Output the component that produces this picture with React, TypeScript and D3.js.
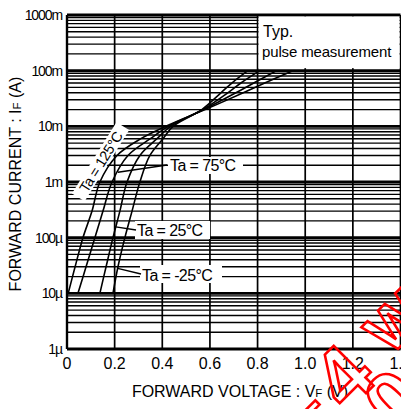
import React from "react";
import * as d3 from "d3";

const W = 401;
const H = 409;

const xTickValues = [0, 0.2, 0.4, 0.6, 0.8, 1.0, 1.2, 1.4];
const xTickLabels = ["0", "0.2", "0.4", "0.6", "0.8", "1.0", "1.2", "1.4"];
const yTickValues = [1e-6, 1e-5, 1e-4, 1e-3, 1e-2, 1e-1, 1];
const yTickLabels = ["1µ", "10µ", "100µ", "1m", "10m", "100m", "1000m"];

const currents = [1e-5, 3e-5, 1e-4, 3e-4, 1e-3, 3e-3, 6e-3, 1e-2, 2e-2, 4e-2, 6e-2, 1e-1];
const vf125 = [0.005, 0.034, 0.067, 0.105, 0.138, 0.21, 0.31, 0.415, 0.58, 0.74, 0.83, 0.948];
const vf75 = [0.046, 0.08, 0.117, 0.151, 0.189, 0.256, 0.35, 0.425, 0.574, 0.709, 0.784, 0.88];
const vf25 = [0.138, 0.164, 0.193, 0.222, 0.252, 0.306, 0.378, 0.435, 0.57, 0.675, 0.73, 0.809];
const vfm25 = [0.193, 0.214, 0.243, 0.273, 0.306, 0.348, 0.403, 0.445, 0.566, 0.646, 0.692, 0.759];

const seriesNames = ["Ta = 125°C", "Ta = 75°C", "Ta = 25°C", "Ta = -25°C"];
const noteLines = ["Typ.", "pulse measurement"];
const watermarkGlyphs = ["4", "0", "W", "-"];

const FONT = "'Liberation Sans', Arial, Helvetica, sans-serif";

export default function App() {
  const x = d3.scaleLinear().domain([0, 1.4]).range([67, 400.5]);
  const y = d3.scaleLog().domain([1e-6, 1]).range([349, 15]);

  const series = [vf125, vf75, vf25, vfm25].map((vs) => vs.map((v, i) => [v, currents[i]] as [number, number]));
  const line = d3
    .line<[number, number]>()
    .x((d) => x(d[0]))
    .y((d) => y(d[1]))
    .curve(d3.curveCatmullRom.alpha(0.5));

  const minor: number[] = [];
  for (let e = -6; e < 0; e++) {
    for (let k = 2; k <= 9; k++) minor.push(k * Math.pow(10, e));
  }

  const vAt = (vs: number[], I: number) => {
    const li = Math.log10(I);
    for (let i = 0; i < currents.length - 1; i++) {
      const a = Math.log10(currents[i]);
      const b = Math.log10(currents[i + 1]);
      if (li >= a && li <= b) {
        const t = (li - a) / (b - a);
        return vs[i] + t * (vs[i + 1] - vs[i]);
      }
    }
    return vs[0];
  };

  const x0 = x(0);
  const x1 = x(1.4);
  const yTop = y(1);
  const yBot = y(1e-6);

  const l75 = { I: 1.5e-3, tx: 170, ty: 171 };
  const l25 = { I: 1.56e-4, tx: 137, ty: 236 };
  const lm25 = { I: 2.8e-5, tx: 142, ty: 281 };

  return (
    <svg
      width={W}
      height={H}
      viewBox={`0 0 ${W} ${H}`}
      style={{ position: "absolute", left: 0, top: 0, background: "#fff" }}
      fontFamily={FONT}
    >
      <rect x={0} y={0} width={W} height={H} fill="#fff" />
      <defs>
        <clipPath id="plot">
          <rect x={x0} y={yTop} width={x1 - x0} height={yBot - yTop} />
        </clipPath>
      </defs>

      {minor.map((v, i) => (
        <line key={"m" + i} x1={x0} x2={x1} y1={y(v)} y2={y(v)} stroke="#000" strokeWidth={1.4} />
      ))}
      {yTickValues.map((v, i) => (
        <line key={"d" + i} x1={x0} x2={x1} y1={y(v)} y2={y(v)} stroke="#000" strokeWidth={2.8} />
      ))}
      {xTickValues.map((v, i) => (
        <line
          key={"v" + i}
          x1={x(v)}
          x2={x(v)}
          y1={yTop}
          y2={yBot}
          stroke="#000"
          strokeWidth={i === 0 ? 2.2 : 1.7}
        />
      ))}

      {/* Typ box */}
      <rect x={x(0.8) + 1} y={yTop + 1.5} width={x1 - x(0.8) - 2} height={y(0.1) - yTop - 4} fill="#fff" />
      <text x={263} y={37} fontSize={16} fill="#000">
        {noteLines[0]}
      </text>
      <text x={262} y={57} fontSize={15} fill="#000" letterSpacing={-0.15}>
        {noteLines[1]}
      </text>

      <g clipPath="url(#plot)">
        {series.map((s, i) => (
          <path key={"c" + i} d={line(s) || ""} fill="none" stroke="#000" strokeWidth={1.6} />
        ))}
      </g>

      <g transform="translate(101,162) rotate(-58)">
        <rect x={-42} y={-8} width={84} height={15} fill="#fff" />
        <text x={0} y={5} fontSize={14.5} textAnchor="middle" letterSpacing={-0.4}>
          {seriesNames[0]}
        </text>
      </g>

      <rect x={168} y={157} width={75} height={17} fill="#fff" />
      <line x1={x(vAt(vf75, l75.I))} y1={y(l75.I)} x2={167} y2={165} stroke="#000" strokeWidth={1.4} />
      <text x={l75.tx} y={l75.ty} fontSize={16} letterSpacing={-0.6}>
        {seriesNames[1]}
      </text>

      <rect x={135} y={221} width={75} height={18} fill="#fff" />
      <line x1={x(vAt(vf25, l25.I))} y1={y(l25.I)} x2={136} y2={230} stroke="#000" strokeWidth={1.4} />
      <text x={l25.tx} y={l25.ty} fontSize={16} letterSpacing={-0.6}>
        {seriesNames[2]}
      </text>

      <rect x={140} y={265} width={82} height={18} fill="#fff" />
      <line x1={x(vAt(vfm25, lm25.I))} y1={y(lm25.I)} x2={141} y2={274} stroke="#000" strokeWidth={1.4} />
      <text x={lm25.tx} y={lm25.ty} fontSize={16} letterSpacing={-0.6}>
        {seriesNames[3]}
      </text>

      <line x1={x0} x2={x0} y1={yTop} y2={yBot} stroke="#000" strokeWidth={2.2} />
      <line x1={x0} x2={x1} y1={yBot} y2={yBot} stroke="#000" strokeWidth={2.2} />

      {yTickValues.map((v, i) => (
        <text key={"yl" + i} x={62} y={y(v) + 5} fontSize={14} textAnchor="end" letterSpacing={-1.1}>
          {yTickLabels[i]}
        </text>
      ))}
      {xTickValues.map((v, i) => (
        <text key={"xl" + i} x={x(v)} y={369} fontSize={16} textAnchor="middle">
          {xTickLabels[i]}
        </text>
      ))}

      <text x={240} y={397} fontSize={16} textAnchor="middle">
        FORWARD VOLTAGE : V<tspan fontSize={11.5}>F</tspan> (V)
      </text>
      <text transform="translate(21,184) rotate(-90)" fontSize={16} textAnchor="middle">
        FORWARD CURRENT : I<tspan fontSize={11.5}>F</tspan> (A)
      </text>

      {/* red watermark (partially visible) */}
      <g fill="none" stroke="#f00" strokeWidth={2.6} fontFamily={FONT} textAnchor="middle" dominantBaseline="central">
        <text transform="translate(343,376) rotate(-45)" fontSize={82} fontWeight="bold">
          {watermarkGlyphs[0]}
        </text>
        <text transform="translate(394,400) rotate(-45)" fontSize={82} fontWeight="bold">
          {watermarkGlyphs[1]}
        </text>
        <text transform="translate(396,322) rotate(-45)" fontSize={60} fontWeight="bold">
          {watermarkGlyphs[2]}
        </text>
        <text transform="translate(310,404) rotate(-45)" fontSize={50} fontWeight="bold">
          {watermarkGlyphs[3]}
        </text>
      </g>
    </svg>
  );
}
